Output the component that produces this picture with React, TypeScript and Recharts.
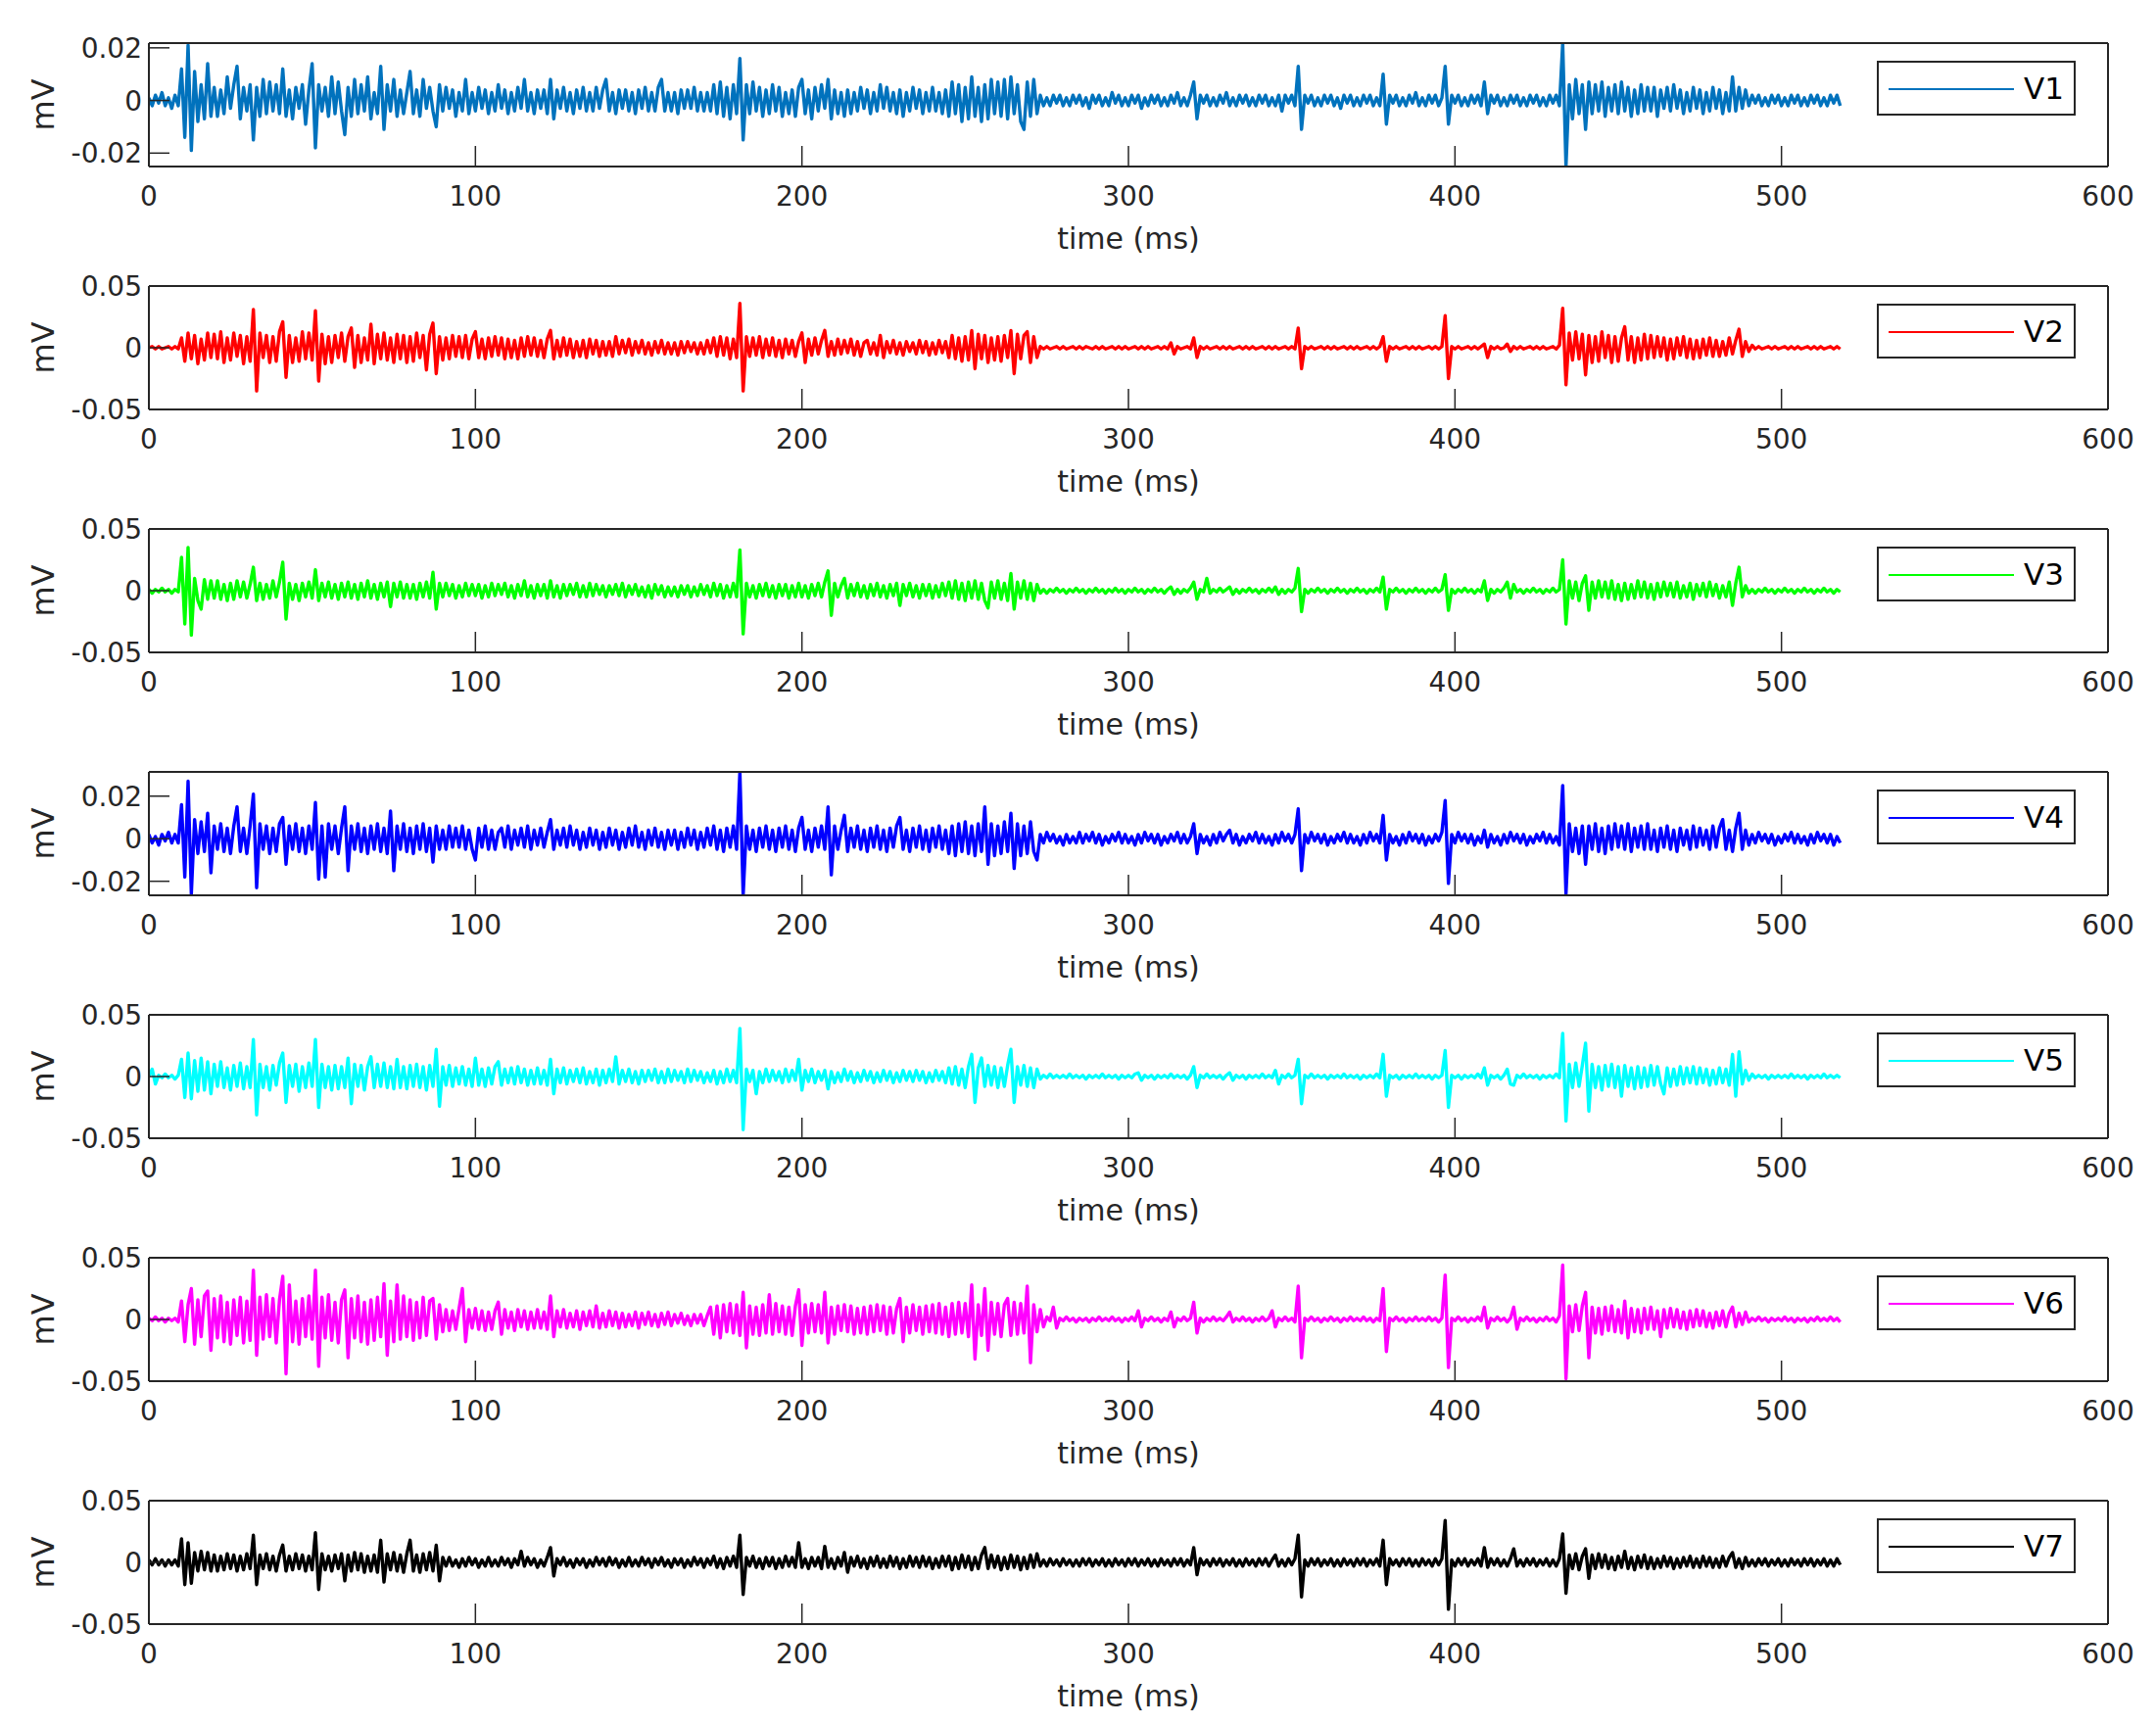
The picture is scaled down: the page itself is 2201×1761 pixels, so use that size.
import React from 'react';
import { LineChart, Line, XAxis, YAxis, Legend } from 'recharts';

// one sample per ms starting at 0 ms, amplitudes in µV
const SAMPLE_MS = 1;
const TIME_TICKS = [0, 100, 200, 300, 400, 500, 600];
const NARROW_TICKS = [-0.02, 0, 0.02];
const WIDE_TICKS = [-0.05, 0, 0.05];

const v1 = [
  1, -2, 2, -1, 3, -2, 1, -3, 2, -2, 12, -14, 21, -19, 11, -8, 6, -7, 14, -6,
  5, -6, 4, -5, 9, -3, 6, 13, -7, 5, -4, 6, -15, 5, -6, 8, -5, 7, -4, 6,
  -5, 12, -6, 4, -7, 5, -3, 6, -9, 4, 14, -18, 6, -4, 5, -6, 9, -5, 7, -4,
  -13, 5, -6, 8, -5, 6, -4, 9, -7, 3, -5, 13, -11, 6, -4, 8, -6, 4, -5, 3,
  11, -5, 4, -6, 8, -3, 5, -4, -10, 6, -4, 5, -3, 4, -6, 3, -4, 8, -5, 3,
  -4, 5, -3, 4, -5, 3, -4, 6, -3, 4, -5, 3, -4, 5, -3, 8, -4, 3, -5, 4,
  -3, 4, -5, 8, -7, 4, -3, 5, -4, 3, -5, 4, -3, 5, -4, 3, -4, 5, -3, 4,
  8, -4, 3, -5, 4, -3, 4, -4, 3, -5, 4, -3, 5, -4, 3, -4, 5, 8, -4, 3,
  -4, 3, -5, 4, -3, 4, -3, 5, -4, 3, -4, 3, -4, 6, -5, 7, -6, 5, -7, 6,
  -5, 16, -15, 6, -5, 7, -4, 5, -6, 4, -5, 6, -4, 5, -6, 3, -5, 4, -6, 5,
  8, -5, 4, -7, 5, -4, 6, -3, 8, -7, 4, -5, 3, -6, 4, -5, 3, -4, 5, -3,
  4, -5, 3, -4, 6, -3, 5, -4, 3, -5, 4, -6, 3, -4, 5, -3, 4, -5, 3, -4,
  5, -4, 3, -5, 4, -6, 7, -5, 6, -8, 5, -7, 9, -6, 5, -8, 6, -7, 8, -5,
  7, -6, 8, -7, 9, -5, 6, -8, -11, 7, -6, 8, -5, 2, -2, 1, -2, 2, -1, 2,
  -2, 1, -2, 2, -1, 2, -2, 1, -3, 2, -1, 2, -2, 1, -2, 3, -1, 2, -2, 1,
  -2, 2, -1, 2, -3, 1, -2, 2, -1, 2, -2, 1, -2, 2, -1, 3, -2, 1, -2, 2,
  7, -7, 2, -1, 2, -2, 1, -2, 2, -1, 3, -2, 1, -2, 2, -1, 2, -2, 1, -2,
  2, -1, 2, -2, 1, -2, 2, -4, 2, -1, 2, -2, 13, -11, 2, -1, 2, -2, 1, -2,
  2, -1, 2, -2, 1, -3, 2, -1, 2, -2, 1, -2, 2, -1, 2, -2, 1, -2, 10, -9,
  2, -1, 2, -2, 1, -2, 2, -1, 3, -2, 1, -2, 2, -1, 2, -2, 1, 13, -9, 2,
  -1, 2, -2, 1, -2, 2, -1, 2, -2, 7, -5, 2, -1, 2, -2, 1, -2, 2, -1, 2,
  -2, 1, -2, 2, -1, 2, -2, 1, -2, 2, -1, 2, -2, 21.8, -25.1, 6, -7, 8, -5, 6,
  -11, 7, -5, 6, -4, 7, -6, 5, -4, 6, -5, 7, -4, 5, -6, 4, -5, 6, -4, 5,
  -4, 5, -6, 4, -3, 5, -4, 6, -3, 4, -5, 3, -4, 5, -3, 4, -5, 3, -4, 5,
  -3, 4, -5, 3, -4, 9, -4, 5, -3, 4, -2, 2, -1, 2, -2, 1, -2, 2, -1, 2,
  -2, 1, -2, 2, -1, 2, -2, 1, -2, 2, -1, 2, -2, 1, -2, 2, -1, 2, -2,
];

const v2 = [
  0, 1, -1, 1, -1, 0, 1, -1, 1, -1, 8, -11, 12, -9, 10, -13, 7, -10, 12, -8,
  11, -9, 13, -12, 8, -10, 12, -7, 10, -13, 9, -11, 31, -35, 12, -8, 10, -12, 9, -11,
  13, 21, -24, 10, -12, 8, -11, 13, -9, 12, -10, 30, -27, 11, -13, 9, -12, 10, -8, 12,
  -11, 9, 16, -16, 10, -12, 8, -10, 19, -13, 11, -9, 12, -10, 8, -12, 11, -9, 10, -12,
  9, -11, 12, -8, 10, -18, 11, 20, -21, 9, -10, 8, -9, 10, -7, 9, -8, 10, -9, 7,
  13, -8, 7, -9, 8, -7, 9, -6, 8, -9, 7, -8, 6, -9, 8, -7, 9, -6, 8, -7,
  6, -8, 7, 14, -9, 6, -7, 8, -6, 7, -8, 5, -7, 6, -8, 7, -5, 6, -7, 5,
  -6, 5, -7, 9, -5, 6, -4, 7, -6, 5, -4, 6, -5, 4, -6, 5, -4, 6, -5, 4,
  -5, 4, -6, 5, -4, 5, -3, 4, -5, 4, -5, 6, -4, 8, -7, 9, -6, 8, -9, 7,
  -8, 36, -35, 9, -7, 8, -6, 9, -8, 7, -6, 8, -7, 6, -8, 7, -5, 6, -7, 5,
  12, -12, 7, -6, 8, -5, 6, 14, -7, 5, -6, 7, -5, 6, -4, 7, -6, 5, -7, 4,
  6, -5, 4, -6, 10, -8, 5, -4, 6, -5, 4, -6, 5, -3, 4, -5, 6, -4, 5, -6,
  4, -5, 6, -4, 5, -8, 10, -9, 8, -11, 9, -10, 14, -17, 11, -9, 10, -12, 8, -10,
  9, -11, 10, -8, 14, -21, 11, -9, 10, 13, -12, 9, -8, 1, -1, 1, -1, 0, 1, -1,
  1, -1, 0, 1, -1, 1, -1, 1, 0, -1, 1, -1, 1, -1, 0, 1, -1, 1, -1, 1,
  -1, 0, 1, -1, 1, -1, 1, -1, 0, 1, -1, 1, -1, 4, -5, 1, -1, 0, 1, -1,
  8, -8, 1, -1, 1, -1, 0, 1, -1, 1, -1, 1, -1, 0, 1, -1, 1, -1, 1, -1,
  0, 1, -1, 1, -1, 1, -1, 0, 1, -1, 1, -1, 16, -17, 1, -1, 1, -1, 0, 1,
  -1, 1, -1, 1, -1, 0, 1, -1, 1, -1, 1, -1, 0, 1, -1, 1, -1, 1, 9, -11,
  1, -1, 1, -1, 0, 1, -1, 1, -1, 1, -1, 0, 1, -1, 1, -1, 1, 26, -25, 1,
  -1, 1, -1, 0, 1, -1, 1, -1, 1, 3, -8, 1, -1, 1, -1, 0, 3, -3, 1, -1,
  1, -1, 0, 1, -1, 1, -1, 1, -1, 0, 1, -1, 2, 32, -30, 12, -10, 13, -9, 11,
  -22, 10, -12, 9, -11, 13, -8, 10, -12, 9, -11, 8, 17, -10, 9, -12, 8, -10, 11, -9,
  10, -8, 9, -7, 8, -10, 7, -9, 8, -6, 9, -8, 7, -9, 6, -8, 7, -6, 8, -7,
  6, -7, 5, -6, 8, -5, 6, 15, -7, 5, -3, 2, -1, 1, -1, 0, 1, -1, 1, -1,
  0, 1, -1, 1, -1, 1, -1, 0, 1, -1, 1, -1, 1, -1, 0, 1, -1, 1, -1,
];

const v3 = [
  1, -2, 1, -1, 2, -1, 1, -2, 1, -1, 27, -27, 35, -36, 10, -8, -15, 9, -7, 8,
  -6, 8, -7, 5, -8, 6, -7, 8, -5, 7, -6, 5, 19, -8, 6, -7, 5, -6, 8, -5,
  7, 23, -23, 6, -7, 5, -8, 6, -5, 7, -6, 17, -8, 6, -5, 7, -6, 5, -7, 6,
  -5, 7, -6, 5, -7, 6, -5, 8, -6, 5, -7, 6, -5, 7, -13, 6, -5, 7, -6, 5,
  -6, 5, -7, 6, -5, 7, -6, 15, -15, 6, -5, 6, -4, 5, -6, 4, -5, 6, -4, 5,
  -4, 5, -6, 4, -5, 6, -4, 5, -3, 6, -5, 4, -6, 5, -4, 8, -5, 4, -6, 5,
  -4, 5, -6, 8, -5, 4, -6, 5, -4, 5, -3, 6, -5, 4, -5, 6, -4, 5, -3, 4,
  -5, 4, -3, 5, -4, 6, -5, 4, -3, 5, -4, 3, -5, 4, -6, 5, -3, 4, -5, 3,
  -4, 3, -5, 4, -3, 4, -5, 3, -4, 5, -3, 4, -5, 6, -4, 5, -6, 4, -5, 6,
  -5, 33, -35, 6, -5, 4, -6, 5, -4, 6, -5, 4, -6, 5, -4, 5, -6, 4, -5, 6,
  -5, 4, -6, 5, -4, 6, -5, 7, 16, -20, 6, -5, 4, 10, -6, 5, -4, 6, -5, 4,
  -6, 5, -4, 6, -5, 4, -6, 5, -4, 6, -12, 5, -4, 6, -5, 4, -6, 5, -4, 5,
  -6, 4, -5, 6, -4, 7, -6, 8, -7, 6, -8, 7, -6, 8, -7, 6, -8, -14, 7, -6,
  8, -7, 6, -8, 14, -15, 7, -6, 8, -7, 6, -8, 5, -2, 1, -2, 1, -1, 2, -1,
  1, -2, 1, -1, 2, -1, 1, -2, 1, -1, 2, -1, 1, -2, 1, -1, 2, -1, 1, -2,
  1, -1, 2, -1, 1, -2, 1, -1, 2, -1, 1, -2, 1, 3, -3, 1, -2, 1, -1, 2,
  7, -7, 1, -1, 10, -2, 1, -1, 2, -1, 1, 3, -3, 1, -2, 1, -1, 2, -1, 1,
  -2, 1, -1, 2, -1, 3, -3, 1, -2, 1, -1, 2, 18, -17, 1, -2, 1, -1, 2, -1,
  1, -2, 1, -1, 2, -1, 1, -2, 1, -1, 2, -1, 1, -2, 1, -1, 2, -1, 11, -15,
  1, -1, 2, -1, 1, -2, 1, -1, 2, -1, 1, -2, 1, -1, 2, -1, 1, 13, -16, 1,
  -2, 1, -1, 2, -1, 1, -2, 1, -1, 8, -8, 1, -2, 1, -1, 2, 7, -6, 5, -1,
  1, -2, 1, -1, 2, -1, 1, -2, 1, -1, 2, -1, 1, 25, -27, 8, -6, 7, -8, 6,
  12, -16, 7, -6, 8, -5, 7, -6, 8, -7, 5, -8, 6, -7, 5, -6, 8, -5, 7, -6,
  5, -7, 6, -5, 7, -4, 6, -5, 7, -6, 4, -5, 6, -7, 5, -4, 6, -5, 7, -4,
  5, -6, 4, -5, 7, -12, 6, 19, -5, 4, -2, 1, -2, 1, -1, 2, -1, 1, -2, 1,
  -1, 2, -1, 1, -2, 1, -1, 2, -1, 1, -2, 1, -1, 2, -1, 1, -2, 1, -1,
];

const v4 = [
  2, -2, 1, -3, 2, -1, 3, -2, 2, -2, 16, -18, 27, -26, 9, -7, 8, -6, 12, -16,
  6, -5, 7, -6, 5, -7, 6, 15, -6, 5, -7, 6, 21, -23, 7, -5, 6, -7, 5, -6,
  7, 10, -12, 6, -5, 7, -6, 5, -7, 6, -5, 17, -19, 6, -18, 7, -5, 6, -7, 5,
  15, -15, 6, -5, 7, -6, 5, -7, 6, -5, 7, -6, 5, -7, 13, -15, 6, -5, 7, -6,
  5, -7, 6, -5, 7, -6, 5, -11, 6, -5, 4, -5, 6, -4, 5, -4, 6, -5, 4, -5,
  -10, 5, -4, 6, -5, 4, -5, 3, 5, -4, 6, -5, 4, -3, 5, -4, 6, -5, 4, -3,
  5, -4, 3, 9, -5, 4, -3, 5, -4, 6, -3, 4, -5, 3, -4, 5, -3, 4, -5, 3,
  -4, 5, -3, 4, -5, 3, -4, 5, -3, 6, -4, 3, -5, 4, -3, 5, -4, 3, -5, 4,
  -3, 4, -5, 3, -4, 5, -3, 4, -5, 3, -4, 5, -3, 6, -5, 4, -6, 5, -4, 6,
  -5, 31.4, -26.6, 6, -5, 4, -6, 5, -4, 6, -5, 4, -6, 5, -4, 6, -5, 4, -6, 5,
  10, -5, 4, -6, 5, -4, 6, -5, 15, -17, 6, -5, 4, 11, -6, 5, -4, 6, -5, 4,
  -6, 5, -4, 6, -5, 4, -6, 5, -4, 6, 10, -5, 4, -6, 5, -4, 6, -5, 4, -6,
  5, -4, 6, -5, 4, -7, 6, -8, 7, -6, 8, -7, 6, -8, 7, -6, 15, -12, 7, -8,
  6, -7, 8, -6, 12, -14, 7, -8, 6, -7, 8, -6, -10, 2, -2, 3, -1, 2, -2, 1,
  -3, 2, -2, 1, -2, 3, -2, 2, -1, 3, -2, 2, -3, 1, -2, 2, -1, 3, -2, 2,
  -2, 1, -3, 2, -2, 3, -1, 2, -2, 2, -3, 1, -2, 2, -1, 3, -2, 2, -2, 1,
  7, -7, 2, -2, 1, -3, 2, -2, 3, -1, 2, 4, -2, 2, -3, 1, -2, 2, -1, 3,
  -2, 2, -2, 1, -3, 2, -2, 3, -1, 2, -2, 2, 14, -15, 2, -2, 3, -1, 2, -2,
  2, -3, 1, -2, 2, -1, 3, -2, 2, -2, 1, -3, 2, -2, 3, -1, 2, -2, 11, -10,
  2, -2, 1, -3, 2, -2, 3, -1, 2, -2, 2, -3, 1, -2, 2, -1, 3, 18, -21, 2,
  -2, 3, -1, 2, -2, 2, -3, 1, -2, 4, -4, 2, -2, 1, -3, 2, -2, 3, -1, 2,
  -2, 2, -3, 1, -2, 2, -1, 3, -2, 2, -2, 1, -3, 25, -26, 7, -6, 5, -7, 6,
  -12, 6, -5, 7, -6, 5, -7, 6, -5, 7, -4, 6, -5, 7, -6, 5, -4, 6, -5, 7,
  -5, 4, -6, 5, -4, 6, -5, 4, -6, 5, -3, 4, -5, 6, -4, 5, -3, 4, -5, 6,
  -4, 5, 9, -5, 4, -6, 5, 12, -5, 4, -3, 2, -2, 3, -1, 2, -2, 2, -3, 1,
  -2, 2, -1, 3, -2, 2, -2, 1, -3, 2, -2, 3, -1, 2, -2, 2, -3, 1, -2,
];

const v5 = [
  0, 6, -6, 1, -1, 2, -1, 1, -2, 1, 14, -17, 19, -18, 13, -12, 15, -11, 12, -14,
  10, -8, 12, -9, 7, -11, 9, -8, 11, -10, 8, -9, 30, -31, 10, -9, 8, -11, 9, -7,
  11, 19, -21, 9, -8, 10, -12, 8, -9, 11, -8, 30, -25, 10, -9, 8, -11, 9, -10, 8,
  -9, 15, -22, 10, -8, 9, -11, 8, 16, -9, 10, -8, 11, -9, 8, -10, 14, -9, 8, -10,
  9, -8, 10, -9, 8, -11, 9, -8, 22, -24, 8, -7, 9, -8, 7, -6, 8, -7, 6, -8,
  15, -7, 6, -8, 7, -6, 8, 12, -7, 6, -5, 7, -6, 8, -5, 6, -7, 5, -6, 7,
  -6, 5, -7, 14, -14, 6, -5, 7, -6, 5, -4, 6, -5, 7, -6, 4, -5, 6, -7, 5,
  -5, 6, -4, 16, -6, 5, -4, 6, -5, 4, -6, 5, -4, 5, -3, 6, -5, 4, -5, 6,
  -4, 5, -3, 4, -5, 6, -4, 5, -3, 4, -5, 3, -4, 5, -6, 4, -5, 6, -4, 5,
  -5, 39, -43, 6, -4, 5, -14, 4, -5, 6, -4, 5, -3, 4, -5, 6, -4, 5, -3, 14,
  -11, 5, -4, 6, -5, 4, -3, 5, -10, 4, -5, 3, -4, 6, -3, 4, -5, 3, -4, 5,
  -3, 4, -5, 3, -4, 5, -3, 4, -5, 3, -4, 5, -3, 4, -4, 5, -3, 4, -5, 3,
  -4, 5, -3, 4, -5, 7, -6, 8, -7, 6, -9, 8, 18, -21, 7, 15, -8, 9, -7, 8,
  -9, 7, -8, 9, 22, -21, 8, -7, 9, -8, 7, -9, 6, -2, 1, -1, 2, -1, 1, -1,
  1, -1, 2, -1, 1, -1, 1, -2, 1, -1, 1, -1, 2, -1, 1, -1, 1, -2, 1, -1,
  1, -1, 2, 3, -3, 1, -1, 1, -2, 1, -1, 1, -1, 2, -1, 1, -1, 1, -2, 1,
  8, -9, 1, -1, 2, -1, 1, -1, 1, -2, 1, 3, -3, 1, -1, 1, -2, 1, -1, 1,
  -1, 2, -1, 1, -1, 5, -6, 1, -1, 2, -1, 1, 14, -22, 1, -1, 2, -1, 1, -1,
  1, -2, 1, -1, 1, -1, 2, -1, 1, -1, 1, -2, 1, -1, 1, -1, 2, -1, 18, -16,
  1, -1, 1, -2, 1, -1, 1, -1, 2, -1, 1, -1, 1, -2, 1, -1, 1, 21, -25, 1,
  -1, 1, -2, 1, -1, 1, -1, 2, -1, 7, -7, 1, -1, 1, -2, 1, 6, -6, -7, 1,
  -1, 2, -1, 1, -1, 1, -2, 1, -1, 1, -1, 2, -1, 35, -36, 10, -9, 11, -8, 9,
  27, -28, 10, -9, 8, -11, 9, -8, 10, -9, 8, -16, 9, -8, 7, -10, 8, -9, 7, -8,
  9, -7, 8, -6, -14, 7, -8, 6, -7, 8, -6, 7, -5, 8, -6, 7, -5, 6, -7, 5,
  -6, 7, -5, 6, -7, 18, -16, 20, -6, 5, -3, 2, -1, 1, -1, 1, -2, 1, -1, 1,
  -1, 1, -1, 2, -1, 1, -1, 1, -2, 1, -1, 1, -1, 2, -1, 1, -1, 1, -1,
];

const v6 = [
  1, -1, 2, -1, 1, -2, 1, -1, 1, -2, 15, -18, 12, 25, -20, 16, -14, 19, 23, -25,
  17, -15, 19, -18, 14, -20, 16, -13, 18, -19, 15, -17, 40, -29, 18, -16, 20, -14, 17, -19,
  16, 35, -44, 28, -18, 15, -20, 17, -14, 19, -16, 40, -38, 18, -15, 20, -17, 14, -19, 16,
  24, -31, 17, -15, 19, -18, 14, -20, 16, -17, 18, -14, 29, -29, 15, -18, 28, -16, 19, -14,
  16, -17, 14, -15, 18, -13, 15, 17, -16, 12, -10, 8, -9, 7, -8, 9, 25, -18, 8, -7,
  9, -8, 7, -9, 6, -8, 7, 14, -12, 8, -7, 6, -9, 8, -6, 7, -8, 6, -7, 8,
  -7, 6, -8, 19, -14, 7, -6, 8, -7, 5, -6, 7, -8, 6, -5, 7, -6, 11, -7, 5,
  -6, 7, -5, 6, -7, 5, -6, 4, -5, 6, -7, 5, -4, 6, -5, 4, -6, 5, -4, 6,
  -5, 4, -3, 5, -4, 3, -5, 4, -3, 4, -5, 3, 10, -12, 11, -15, 12, -10, 13, -11,
  12, -13, 22, -23, 11, -12, 10, -13, 12, -11, 20, -12, 13, -10, 11, -12, 10, -13, 11, 24,
  -21, 12, -11, 13, -10, 12, -11, 22, -19, 10, -12, 11, -9, 12, -10, 11, -12, 9, -11, 10,
  -12, 11, -10, 12, -9, 11, -12, 10, -11, 9, 17, -18, 10, -11, 12, -9, 10, -12, 11, -10,
  12, -11, 13, -12, 10, -14, 13, -12, 14, -11, 13, -14, 28, -32, 12, -13, 25, -25, 14, -12,
  13, -14, 12, 17, -13, 14, -12, 13, -11, 27, -35, 12, -10, 8, -6, 2, -1, 10, -7, 1,
  -1, 2, -1, 1, -2, 1, -1, 1, -2, 1, -1, 2, -1, 1, -1, 2, -1, 1, -2, 1,
  -1, 2, -1, 7, -6, 1, -1, 2, -1, 1, -2, 1, -1, 6, -6, 1, -1, 2, -1, 1,
  14, -11, 1, -2, 1, -1, 2, -1, 1, -1, 2, 6, -2, 1, -1, 2, -1, 1, -2, 1,
  -1, 2, -1, 1, 7, -6, 1, -1, 2, -1, 1, -2, 27, -31, 1, -1, 2, -1, 1, -2,
  1, -1, 2, -1, 1, -2, 1, -1, 2, -1, 1, -1, 2, -1, 1, -2, 1, -1, 25, -26,
  1, -1, 2, -1, 1, -2, 1, -1, 2, -1, 1, -1, 2, -1, 1, -2, 1, 36, -39, 1,
  -1, 2, -1, 1, -2, 1, -1, 2, -1, 10, -7, 1, -1, 2, -1, 1, -2, 1, 10, -8,
  1, -1, 2, -1, 1, -2, 1, -1, 2, -1, 1, -2, 3, 44, -48, 11, -10, 12, -9, 11,
  22, -31, 10, -11, 9, -12, 10, -9, 11, -10, 8, -11, 15, -15, 9, -10, 8, -11, 9, -8,
  10, -8, 7, -14, 8, -7, 9, -6, 8, -7, 6, -8, 7, -6, 8, -5, 7, -6, 5, -7,
  6, -5, 7, -6, 5, 10, -6, 5, -4, 6, -2, 1, -1, 2, -1, 1, -2, 1, -1, 1,
  -1, 2, -1, 1, -2, 1, -1, 1, -2, 1, -1, 2, -1, 1, -1, 2, -1, 1, -2,
];

const v7 = [
  2, -2, 3, -2, 2, -3, 2, -2, 2, -3, 19, -18, 16, -17, 8, -7, 9, -6, 8, -7,
  6, -7, 5, -6, 7, -5, 6, -7, 5, -6, 7, -5, 22, -18, 6, -5, 7, -6, 5, -7,
  6, 14, -7, 5, -6, 7, -5, 6, -7, 5, -6, 24, -22, 7, -6, 5, -7, 6, -5, 7,
  -15, 6, -7, 8, -6, 7, -8, 5, -7, 6, -8, 18, -16, 7, -6, 8, -7, 6, -8, 7,
  18, -7, 6, -8, 7, -6, 8, -7, 14, -15, 4, -3, 4, -3, 2, -4, 3, -3, 4, -2,
  3, -4, 2, -3, 4, -3, 2, -3, 4, -2, 3, -4, 3, -2, 9, -3, 4, -2, 3, -4,
  2, -3, 4, 12, -11, 3, -2, 4, -3, 2, -4, 3, -2, 3, -4, 2, -3, 4, -2, 3,
  -3, 4, -2, 3, -4, 2, -3, 4, -3, 2, -3, 4, -2, 3, -4, 3, -2, 4, -3, 2,
  -4, 3, -2, 3, -4, 2, -3, 4, -2, 3, -4, 3, -2, 5, -4, 3, -5, 4, -3, 5,
  -4, 22, -26, 4, -3, 5, -4, 3, -5, 4, -3, 4, -5, 3, -4, 5, -3, 4, -4, 16,
  -4, 3, -5, 4, -3, 4, -5, 13, -4, 3, -5, 4, -3, 8, -8, 4, -3, 5, -4, 3,
  -5, 4, -3, 5, -4, 3, -4, 5, -3, 4, -5, 3, -4, 5, -3, 4, -4, 5, -3, 4,
  -5, 3, -4, 5, -3, 5, -6, 4, -5, 6, -4, 5, -6, 4, -5, 6, 12, -5, 6, -4,
  5, -6, 4, -5, 6, -4, 5, -6, 4, -5, 6, -4, 7, -3, 2, -3, 3, -2, 2, -3,
  3, -2, 2, -3, 2, -3, 3, -2, 3, -3, 2, -2, 3, -3, 2, -3, 3, -2, 2, -3,
  3, -2, 3, -3, 2, -2, 3, -3, 2, -3, 3, -2, 2, -3, 3, -2, 3, -3, 2, -2,
  12, -10, 3, -2, 2, -3, 3, -2, 3, -3, 2, -2, 3, -3, 2, -3, 3, -2, 2, -3,
  3, -2, 3, -3, 2, 6, -3, 2, -3, 3, -2, 3, 22, -28, 2, -3, 3, -2, 3, -3,
  2, -2, 3, -3, 2, -3, 3, -2, 2, -3, 3, -2, 3, -3, 2, -2, 3, -3, 18, -18,
  3, -2, 2, -3, 3, -2, 3, -3, 2, -3, 3, -2, 2, -3, 3, -2, 3, 34, -38, 2,
  -3, 3, -2, 3, -3, 2, -2, 3, -3, 12, -4, 3, -2, 3, -3, 2, -3, 3, 11, -3,
  2, -3, 3, -2, 3, -3, 2, -2, 3, -3, 2, -3, 3, 23, -25, 6, -5, 7, -6, 5,
  11, -13, 6, -5, 7, -4, 6, -5, 4, -6, 5, -4, 9, -5, 4, -6, 5, -4, 6, -5,
  4, -5, 3, -4, 5, -3, 4, -5, 3, -4, 4, -3, 5, -4, 3, -4, 5, -3, 4, -4,
  3, -4, 5, -3, 4, 8, -4, 3, -5, 4, -3, 2, -3, 3, -2, 3, -3, 2, -2, 3,
  -3, 2, -3, 3, -2, 2, -3, 3, -2, 3, -3, 2, -2, 3, -3, 2, -3, 3, -2,
];

const CHANNELS = [
  { name: 'V1', color: '#0072BD', values: v1, domain: [-0.0251, 0.0218], ticks: NARROW_TICKS },
  { name: 'V2', color: '#FF0000', values: v2, domain: [-0.05, 0.05], ticks: WIDE_TICKS },
  { name: 'V3', color: '#00FF00', values: v3, domain: [-0.05, 0.05], ticks: WIDE_TICKS },
  { name: 'V4', color: '#0000FF', values: v4, domain: [-0.0266, 0.0314], ticks: NARROW_TICKS },
  { name: 'V5', color: '#00FFFF', values: v5, domain: [-0.05, 0.05], ticks: WIDE_TICKS },
  { name: 'V6', color: '#FF00FF', values: v6, domain: [-0.05, 0.05], ticks: WIDE_TICKS },
  { name: 'V7', color: '#000000', values: v7, domain: [-0.05, 0.05], ticks: WIDE_TICKS },
];

const FONT = '"DejaVu Sans", Arial, sans-serif';
const AXIS = '#262626';
const CHART_W = 2201;
const FIRST_TOP = 44;
const PANEL_STEP = 248;
const PLOT_H = 126;
const MARGIN_TOP = 20;
const CHART_H = MARGIN_TOP + PLOT_H + 100;

const tickStyle = { fill: AXIS, fontSize: 28, fontFamily: FONT };
const axisLine = { stroke: AXIS, strokeWidth: 2 };
const tickLine = { stroke: AXIS, strokeWidth: 1.5 };

const LegendBox = (props: any) => {
  const item = props.payload && props.payload[0];
  if (!item) return null;
  return (
    <div
      style={{
        boxSizing: 'border-box',
        position: 'relative',
        width: 203,
        height: 56,
        border: `2px solid ${AXIS}`,
        background: '#fff',
        fontFamily: FONT,
      }}
    >
      <div style={{ position: 'absolute', left: 10, top: 26, width: 128, height: 2, background: item.color }} />
      <span style={{ position: 'absolute', left: 148, top: 0, lineHeight: '52px', fontSize: 31, color: '#000' }}>
        {item.value}
      </span>
    </div>
  );
};

const Panel = ({ ch, index }: { ch: (typeof CHANNELS)[number]; index: number }) => {
  const rows = ch.values.map((uv, i) => ({ t: i * SAMPLE_MS, v: uv / 1000 }));
  return (
    <div style={{ position: 'absolute', left: 0, top: FIRST_TOP + index * PANEL_STEP - MARGIN_TOP }}>
      <LineChart width={CHART_W} height={CHART_H} data={rows} margin={{ top: 19, right: 48, bottom: 10, left: 12 }}>
        <XAxis
          xAxisId="b"
          dataKey="t"
          type="number"
          domain={[0, 600]}
          ticks={TIME_TICKS}
          interval={0}
          allowDataOverflow
          height={90}
          tickSize={-21}
          tickMargin={41}
          tick={tickStyle}
          axisLine={axisLine}
          tickLine={tickLine}
          label={{ value: 'time (ms)', position: 'insideBottom', offset: 6, fill: AXIS, fontSize: 30, fontFamily: FONT }}
        />
        <XAxis
          xAxisId="t"
          orientation="top"
          dataKey="t"
          type="number"
          domain={[0, 600]}
          ticks={TIME_TICKS}
          interval={0}
          allowDataOverflow
          height={1}
          tickSize={-21}
          tick={false}
          axisLine={axisLine}
          tickLine={tickLine}
        />
        <YAxis
          yAxisId="l"
          type="number"
          domain={ch.domain}
          ticks={ch.ticks}
          interval={0}
          allowDataOverflow
          width={140}
          tickSize={-21}
          tickMargin={28}
          tick={tickStyle}
          axisLine={axisLine}
          tickLine={tickLine}
          label={{
            value: 'mV',
            angle: -90,
            position: 'insideLeft',
            offset: 32,
            fill: AXIS,
            fontSize: 32,
            fontFamily: FONT,
            style: { textAnchor: 'middle' },
          }}
        />
        <YAxis
          yAxisId="r"
          orientation="right"
          type="number"
          domain={ch.domain}
          ticks={ch.ticks}
          interval={0}
          allowDataOverflow
          width={1}
          tickSize={-21}
          tick={false}
          axisLine={axisLine}
          tickLine={tickLine}
        />
        <Line
          xAxisId="b"
          yAxisId="l"
          type="linear"
          dataKey="v"
          name={ch.name}
          stroke={ch.color}
          strokeWidth={3.4}
          strokeLinejoin="round"
          dot={false}
          activeDot={false}
          isAnimationActive={false}
        />
        <Legend
          layout="horizontal"
          verticalAlign="middle"
          align="center"
          content={LegendBox}
          wrapperStyle={{ top: 38, left: 1916, width: 203, height: 56 }}
        />
      </LineChart>
    </div>
  );
}

export default function App() {
  return (
    <div style={{ position: 'absolute', left: 0, top: 0, width: 2201, height: 1761, background: '#fff' }}>
      {CHANNELS.map((ch, i) => (
        <Panel key={ch.name} ch={ch} index={i} />
      ))}
    </div>
  );
}
